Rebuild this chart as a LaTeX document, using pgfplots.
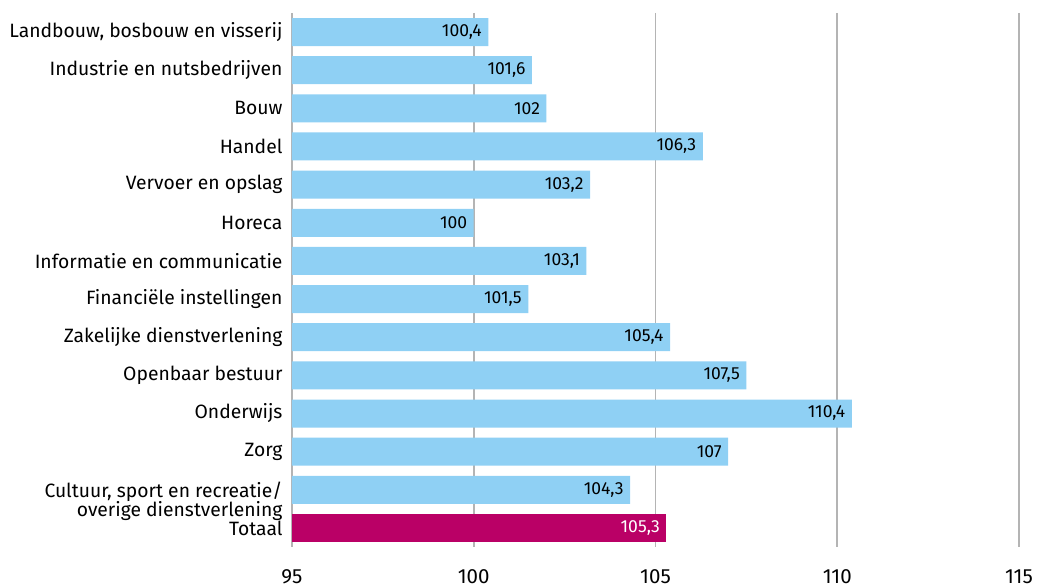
\documentclass[border=0pt]{standalone}
\usepackage{pgfplots}
\pgfplotsset{compat=1.18}
\usepackage{fontspec}
\setmainfont{Fira Sans}
\definecolor{barblue}{RGB}{143,208,244}
\definecolor{barmag}{RGB}{186,0,102}
\definecolor{gridgray}{RGB}{180,180,180}
\begin{document}
\begin{tikzpicture}[x=1pt,y=1pt]
\begin{axis}[
  scale only axis,
  width=727pt, height=534pt,
  xmin=95, xmax=115,
  ymin=-0.5, ymax=13.5,
  y dir=reverse,
  xbar, bar width=28pt, bar shift=0pt,
  xtick={95,100,105,110,115},
  ytick={0,...,13},
  yticklabels={{Landbouw, bosbouw en visserij}, Industrie en nutsbedrijven, Bouw, Handel, Vervoer en opslag, Horeca, Informatie en communicatie, Financiële instellingen, Zakelijke dienstverlening, Openbaar bestuur, Onderwijs, Zorg, {\raisebox{0pt}[\height][0pt]{\begin{tabular}[t]{@{}r@{}}Cultuur, sport en recreatie/\\[-3pt]overige dienstverlening\end{tabular}}}, Totaal},
  axis line style={draw=none},
  major tick length=0pt,
  xmajorgrids,
  grid style={gridgray, line width=1.8pt},
  yticklabel style={font=\fontsize{19.3}{22}\selectfont, xshift=-6pt, align=right},
  xticklabel style={font=\fontsize{20.5}{24}\selectfont, yshift=-19pt},
  /pgf/number format/assume math mode=true,
  /pgf/number format/fixed,
  /pgf/number format/use comma,
  /pgf/number format/precision=1,
  nodes near coords,
  every node near coord/.append style={font=\fontsize{17.5}{20}\selectfont, anchor=east, xshift=-3pt},
  clip=false,
]
\addplot[fill=barblue, draw=none] coordinates {
(100.4,0) (101.6,1) (102,2) (106.3,3) (103.2,4) (100,5) (103.1,6) (101.5,7) (105.4,8) (107.5,9) (110.4,10) (107,11) (104.3,12)};
\addplot[fill=barmag, draw=none, every node near coord/.append style={text=white}] coordinates {(105.3,13)};
\coordinate (sw) at (axis description cs:0,0);
\end{axis}
\path (sw) ++(-292pt,-38pt) rectangle ++(1037pt,585pt);
\end{tikzpicture}
\end{document}
